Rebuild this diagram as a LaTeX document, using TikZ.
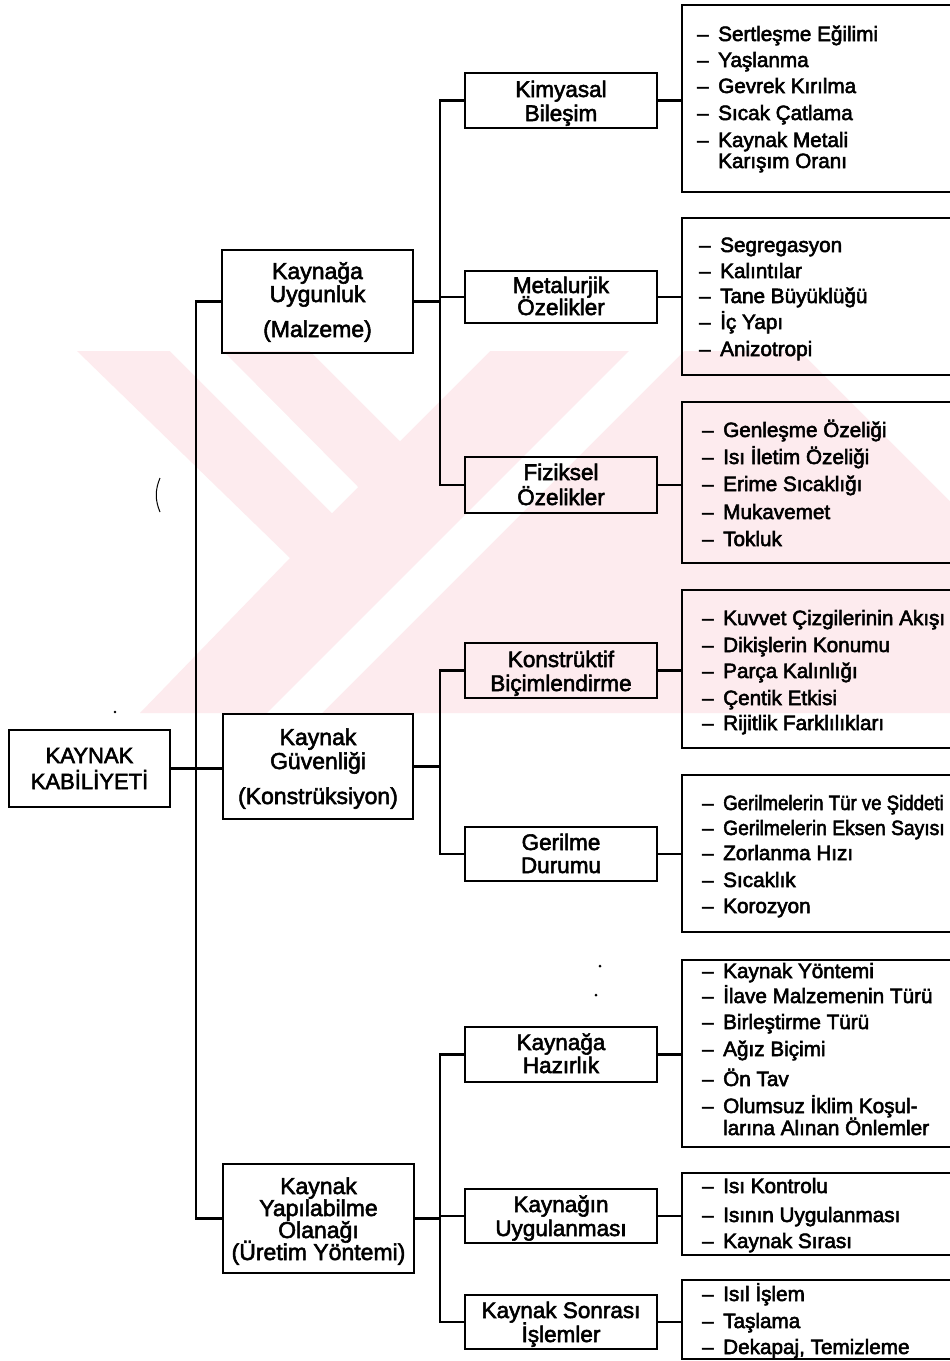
\documentclass[tikz,border=0pt]{standalone}
\usepackage{fontspec}
\usepackage{graphicx}
\newfontfamily\diagfont{Liberation Sans}
\newcommand\heavytext{\special{pdf:literal direct 2 Tr 0.55 w}}
\definecolor{wm}{RGB}{253,235,238}
\begin{document}
\begin{tikzpicture}[x=1pt,y=-1pt,
  box/.style={draw, line width=2.2pt, inner sep=0pt, outer sep=0pt, anchor=north west},
  ln/.style={line width=2.2pt},
  tthree/.style={anchor=base west, inner sep=0pt, font=\diagfont\fontsize{20.7}{24}\selectfont\heavytext},
  ttwo/.style={anchor=base, inner sep=0pt, font=\diagfont\fontsize{22.5}{26}\selectfont\heavytext},
  tone/.style={anchor=base, inner sep=0pt, font=\diagfont\fontsize{23}{26}\selectfont\heavytext},
  troot/.style={anchor=base, inner sep=0pt, font=\diagfont\fontsize{22}{26}\selectfont\heavytext}]
\clip (0,0) rectangle (950,1361);
\fill[white] (0,0) rectangle (950,1361);
% watermark
\fill[wm] (77,351) -- (950,351) -- (950,713) -- (140,713) -- (290,558) -- cycle;
\fill[white] (170,351) -- (223,351) -- (358,487) -- (332,513) -- cycle;
\fill[white] (310,351) -- (490,351) -- (400,441) -- cycle;
\fill[white] (267,713) -- (322,713) -- (684,351) -- (629,351) -- cycle;
\fill[white] (800,351) -- (950,351) -- (950,501) -- cycle;
% stray marks
\draw[line width=1pt] (160,478) .. controls (155,490) and (155,500) .. (160,512);
\fill (115,712) circle (1.3);
\fill (600,966) circle (1.5);
\fill (596,995) circle (1.5);

% boxes
\node[box, minimum width=161pt, minimum height=77pt] (root) at (9,730) {};
\node[box, minimum width=191pt, minimum height=103pt] (L1a) at (222,250) {};
\node[box, minimum width=190pt, minimum height=105pt] (L1b) at (223,714) {};
\node[box, minimum width=191pt, minimum height=109pt] (L1c) at (223,1164) {};

\node[box, minimum width=192pt, minimum height=55pt] (L2a) at (465,73) {};
\node[box, minimum width=192pt, minimum height=52pt] (L2b) at (465,271) {};
\node[box, minimum width=192pt, minimum height=56pt] (L2c) at (465,457) {};
\node[box, minimum width=192pt, minimum height=55pt] (L2d) at (465,643) {};
\node[box, minimum width=192pt, minimum height=54pt] (L2e) at (465,827) {};
\node[box, minimum width=192pt, minimum height=55pt] (L2f) at (465,1027) {};
\node[box, minimum width=192pt, minimum height=54pt] (L2g) at (465,1189) {};
\node[box, minimum width=192pt, minimum height=54pt] (L2h) at (465,1295) {};

\node[box, minimum width=300pt, minimum height=187pt] (L3a) at (682,5) {};
\node[box, minimum width=300pt, minimum height=157pt] (L3b) at (682,218) {};
\node[box, minimum width=300pt, minimum height=161pt] (L3c) at (682,402) {};
\node[box, minimum width=300pt, minimum height=158pt] (L3d) at (682,590) {};
\node[box, minimum width=300pt, minimum height=157pt] (L3e) at (682,775) {};
\node[box, minimum width=300pt, minimum height=187pt] (L3f) at (682,960) {};
\node[box, minimum width=300pt, minimum height=82pt] (L3g) at (682,1173) {};
\node[box, minimum width=300pt, minimum height=79pt] (L3h) at (682,1280) {};

\coordinate (t0) at (196,768);
\coordinate (g1) at (440,0);

% connectors
\draw[ln] (root.east) -- (root.east -| L1b.west);
\draw[ln] (L1a.west) -- (L1a.west -| t0) -- (t0 |- L1c.west) -- (L1c.west);

\draw[ln] (L2a.west) -- (L2a.west -| g1) -- (g1 |- L2c.west) -- (L2c.west);
\draw[ln] (L1a.east) -- (L1a.east -| g1);
\draw[ln] (g1 |- L2b.west) -- (L2b.west);

\draw[ln] (L2d.west) -- (L2d.west -| g1) -- (g1 |- L2e.west) -- (L2e.west);
\draw[ln] (L1b.east) -- (L1b.east -| g1);

\draw[ln] (L2f.west) -- (L2f.west -| g1) -- (g1 |- L2h.west) -- (L2h.west);
\draw[ln] (L1c.east) -- (L1c.east -| g1);
\draw[ln] (g1 |- L2g.west) -- (L2g.west);

\foreach \s/\d in {L2a/L3a, L2b/L3b, L2c/L3c, L2d/L3d, L2e/L3e, L2f/L3f, L2g/L3g, L2h/L3h}
  \draw[ln] (\s.east) -- (\s.east -| \d.west);

% root and level 1 texts
\node[troot] (r1) at (89.5,763) {KAYNAK};
\node[troot] (r2) at (89.5,789) {KABİLİYETİ};

\node[tone] (a1) at (317.5,279) {Kaynağa};
\node[tone] (a2) at (317.5,302) {Uygunluk};
\node[tone] (a3) at (317.5,337) {(Malzeme)};
\node[tone] (b1) at (318,745) {Kaynak};
\node[tone] (b2) at (318,769) {Güvenliği};
\node[tone] (b3) at (318,804) {(Konstrüksiyon)};
\node[tone] (c1) at (318.5,1194) {Kaynak};
\node[tone] (c2) at (318.5,1216) {Yapılabilme};
\node[tone] (c3) at (318.5,1238) {Olanağı};
\node[tone] (c4) at (318.5,1260) {(Üretim Yöntemi)};

% level 2 texts
\node[ttwo] (k1) at (561,97) {Kimyasal};
\node[ttwo] (k2) at (561,121) {Bileşim};
\node[ttwo] (m1) at (561,293) {Metalurjik};
\node[ttwo] (m2) at (561,315) {Özelikler};
\node[ttwo] (f1) at (561,480) {Fiziksel};
\node[ttwo] (f2) at (561,505) {Özelikler};
\node[ttwo] (s1) at (561,667) {Konstrüktif};
\node[ttwo] (s2) at (561,691) {Biçimlendirme};
\node[ttwo] (g21) at (561,850) {Gerilme};
\node[ttwo] (g22) at (561,873) {Durumu};
\node[ttwo] (h1) at (561,1050) {Kaynağa};
\node[ttwo] (h2) at (561,1073) {Hazırlık};
\node[ttwo] (u1) at (561,1212) {Kaynağın};
\node[ttwo] (u2) at (561,1236) {Uygulanması};
\node[ttwo] (p1) at (561,1318) {Kaynak Sonrası};
\node[ttwo] (p2) at (561,1342) {İşlemler};

% level 3 lists
\foreach \yy/\txt [count=\i] in {41/Sertleşme Eğilimi, 67/Yaşlanma, 93/Gevrek Kırılma, 120/Sıcak Çatlama, 147/Kaynak Metali} {
  \node[tthree] (la\i) at (718,\yy) {\txt};
  \node[tthree] (lad\i) at (697,\yy) {–};
}
\node[tthree] (la6) at (718,168) {Karışım Oranı};

\foreach \yy/\txt [count=\i] in {252/Segregasyon, 278/Kalıntılar, 303/Tane Büyüklüğü, 329/İç Yapı, 356/Anizotropi} {
  \node[tthree] (lb\i) at (720,\yy) {\txt};
  \node[tthree] (lbd\i) at (699,\yy) {–};
}

\foreach \yy/\txt [count=\i] in {437/Genleşme Özeliği, 464/Isı İletim Özeliği, 491/Erime Sıcaklığı, 519/Mukavemet, 546/Tokluk} {
  \node[tthree] (lc\i) at (723,\yy) {\txt};
  \node[tthree] (lcd\i) at (702,\yy) {–};
}

\foreach \yy/\txt [count=\i] in {625/Kuvvet Çizgilerinin Akışı, 652/Dikişlerin Konumu, 678/Parça Kalınlığı, 705/Çentik Etkisi, 730/Rijitlik Farklılıkları} {
  \node[tthree] (ld\i) at (723,\yy) {\txt};
  \node[tthree] (ldd\i) at (702,\yy) {–};
}

\foreach \yy/\txt [count=\i] in {810/{\scalebox{0.9}[1]{Gerilmelerin Tür ve Şiddeti}}, 835/{\scalebox{0.93}[1]{Gerilmelerin Eksen Sayısı}}, 860/Zorlanma Hızı, 887/Sıcaklık, 913/Korozyon} {
  \node[tthree] (le\i) at (723,\yy) {\txt};
  \node[tthree] (led\i) at (702,\yy) {–};
}

\foreach \yy/\txt [count=\i] in {978/Kaynak Yöntemi, 1003/İlave Malzemenin Türü, 1029/Birleştirme Türü, 1056/Ağız Biçimi, 1086/Ön Tav, 1113/Olumsuz İklim Koşul-} {
  \node[tthree] (lf\i) at (723,\yy) {\txt};
  \node[tthree] (lfd\i) at (702,\yy) {–};
}
\node[tthree] (lf7) at (723,1135) {larına Alınan Önlemler};

\foreach \yy/\txt [count=\i] in {1193/Isı Kontrolu, 1222/Isının Uygulanması, 1248/Kaynak Sırası} {
  \node[tthree] (lg\i) at (723,\yy) {\txt};
  \node[tthree] (lgd\i) at (702,\yy) {–};
}

\foreach \yy/\txt [count=\i] in {1301/Isıl İşlem, 1328/Taşlama, 1354/{Dekapaj, Temizleme}} {
  \node[tthree] (lh\i) at (723,\yy) {\txt};
  \node[tthree] (lhd\i) at (702,\yy) {–};
}
\end{tikzpicture}
\end{document}
